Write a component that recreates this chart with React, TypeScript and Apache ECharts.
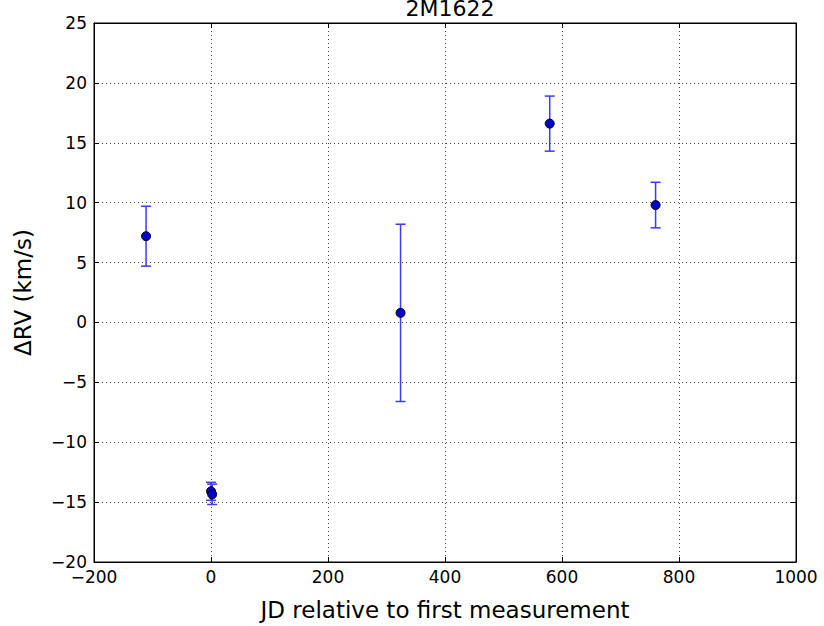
import React, { useEffect, useRef } from "react";
import * as echarts from "echarts";

const jd = [-111, 0, 2, 324, 579, 760];
const deltaRV = [7.2, -14.1, -14.35, 0.8, 16.6, 9.8];
const rvErr = [2.5, 0.75, 0.85, 7.4, 2.3, 1.9];
const titleText = "2M1622";
const xName = "JD relative to first measurement";
const yName = "ΔRV (km/s)";

const FONT = "DejaVu Sans";

export default function App() {
  const ref = useRef<HTMLDivElement>(null);
  useEffect(() => {
    if (!ref.current) return;
    const chart = echarts.init(ref.current, undefined, { renderer: "svg" });
    const errData = jd.map((x, i) => [x, deltaRV[i], rvErr[i]]);
    const ptData = jd.map((x, i) => [x, deltaRV[i]]);
    const tickStyle = { inside: true, length: 5, lineStyle: { color: "#000", width: 1 } };
    const split = { show: true, lineStyle: { color: "#444", type: [1, 3] as any, width: 1 } };
    const labelStyle = { color: "#000", fontFamily: FONT, fontSize: 17 };
    const fmt = (v: number) => String(v).replace("-", "\u2212");
    chart.setOption({
      animation: false,
      backgroundColor: "#fff",
      title: {
        text: titleText,
        left: 445,
        textAlign: "center",
        top: -8,
        textStyle: { fontFamily: FONT, fontSize: 22, fontWeight: "normal", color: "#000" },
      },
      grid: { left: 94, right: 28, top: 23, bottom: 62, show: true, borderColor: "#000", borderWidth: 1 },
      xAxis: [
        {
          type: "value",
          min: -200,
          max: 1000,
          interval: 200,
          name: xName,
          nameLocation: "middle",
          nameGap: 36,
          nameTextStyle: { fontFamily: FONT, fontSize: 23, color: "#000" },
          axisLine: { show: true, onZero: false, lineStyle: { color: "#000" } },
          axisTick: tickStyle,
          axisLabel: { ...labelStyle, margin: 6, formatter: fmt },
          splitLine: split,
        },
        {
          type: "value",
          position: "top",
          min: -200,
          max: 1000,
          interval: 200,
          axisLine: { show: true, onZero: false, lineStyle: { color: "#000" } },
          axisTick: tickStyle,
          axisLabel: { show: false },
          splitLine: { show: false },
        },
      ],
      yAxis: [
        {
          type: "value",
          min: -20,
          max: 25,
          interval: 5,
          name: yName,
          nameLocation: "middle",
          nameGap: 60,
          nameTextStyle: { fontFamily: FONT, fontSize: 23, color: "#000" },
          axisLine: { show: true, onZero: false, lineStyle: { color: "#000" } },
          axisTick: tickStyle,
          axisLabel: { ...labelStyle, margin: 7, formatter: fmt },
          splitLine: split,
        },
        {
          type: "value",
          position: "right",
          min: -20,
          max: 25,
          interval: 5,
          axisLine: { show: true, onZero: false, lineStyle: { color: "#000" } },
          axisTick: tickStyle,
          axisLabel: { show: false },
          splitLine: { show: false },
        },
      ],
      series: [
        {
          type: "custom",
          xAxisIndex: 0,
          yAxisIndex: 0,
          data: errData,
          renderItem: (params: any, api: any) => {
            const x = api.value(0);
            const y = api.value(1);
            const e = api.value(2);
            const top = api.coord([x, y + e]);
            const bot = api.coord([x, y - e]);
            const cw = 5;
            const style = { stroke: "#3a3aff", lineWidth: 1.5, fill: null };
            return {
              type: "group",
              children: [
                { type: "line", shape: { x1: top[0], y1: top[1], x2: bot[0], y2: bot[1] }, style },
                { type: "line", shape: { x1: top[0] - cw, y1: top[1], x2: top[0] + cw, y2: top[1] }, style },
                { type: "line", shape: { x1: bot[0] - cw, y1: bot[1], x2: bot[0] + cw, y2: bot[1] }, style },
              ],
            };
          },
          z: 2,
        },
        {
          type: "scatter",
          xAxisIndex: 0,
          yAxisIndex: 0,
          data: ptData,
          symbol: "circle",
          symbolSize: 9,
          itemStyle: { color: "#0000d0", borderColor: "#000", borderWidth: 1, opacity: 1 },
          z: 3,
        },
      ],
    });
    return () => chart.dispose();
  }, []);
  return <div ref={ref} style={{ width: 824, height: 626, position: "absolute", left: 0, top: 0 }} />;
}
